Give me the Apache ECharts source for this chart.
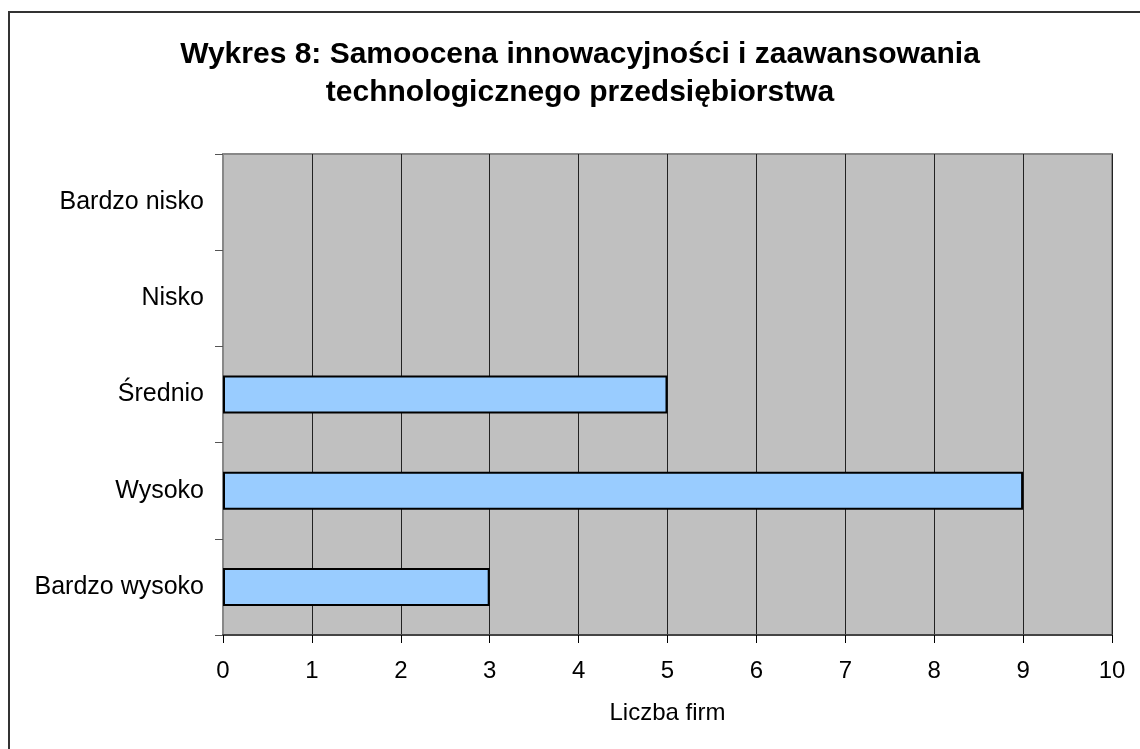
<!DOCTYPE html>
<html>
<head>
<meta charset="utf-8">
<title>Wykres 8</title>
<script src="https://cdn.jsdelivr.net/npm/echarts@6/dist/echarts.min.js"></script>
<style>
	html, body { margin: 0; padding: 0; background: #fff; }
	#chart { width: 1140px; height: 749px; }
</style>
</head>
<body>
<div id="chart"></div>
<script>
// dane z wykresu
var categories = ['Bardzo nisko', 'Nisko', 'Średnio', 'Wysoko', 'Bardzo wysoko'];
var values = [0, 0, 5, 9, 3];
var xTicks = [0, 1, 2, 3, 4, 5, 6, 7, 8, 9, 10];

var myChart = echarts.init(document.getElementById('chart'));

// zerowe slupki bez obramowania
var barData = [];
for (var i = 0; i < values.length; i++) {
	barData.push({
		value: values[i],
		itemStyle: { borderWidth: values[i] === 0 ? 0 : 2 }
	});
}

var option = {
	backgroundColor: '#fff',
	animation: false,
	textStyle: {
		fontFamily: 'Liberation Sans, Arial, sans-serif'
	},
	title: {
		text: 'Wykres 8: Samoocena innowacyjności i zaawansowania\ntechnologicznego przedsiębiorstwa',
		left: 575,
		top: 31,
		textAlign: 'center',
		textStyle: {
			fontSize: 30,
			fontWeight: 'bold',
			color: '#000',
			lineHeight: 38
		}
	},
	graphic: [{
		type: 'rect',
		shape: { x: 9, y: 12, width: 1200, height: 800 },
		style: { fill: 'none', stroke: '#333', lineWidth: 2 },
		silent: true
	}],
	grid: {
		left: 223,
		right: 28,
		top: 154,
		bottom: 114,
		show: true,
		backgroundColor: '#C0C0C0',
		borderColor: '#888',
		borderWidth: 2
	},
	xAxis: {
		type: 'value',
		min: xTicks[0],
		max: xTicks[xTicks.length - 1],
		interval: 1,
		name: 'Liczba firm',
		nameLocation: 'middle',
		nameGap: 66,
		nameTextStyle: { fontSize: 24, color: '#000' },
		axisLine: { show: true, lineStyle: { color: '#444', width: 2 } },
		axisTick: { show: true, length: 8, lineStyle: { color: '#000', width: 1 } },
		axisLabel: { fontSize: 24, color: '#000', margin: 24 },
		splitLine: { show: true, lineStyle: { color: '#222', width: 1 } }
	},
	yAxis: {
		type: 'category',
		data: categories,
		inverse: true,
		axisLine: { show: true, lineStyle: { color: '#888', width: 2 } },
		axisTick: { show: true, length: 8, lineStyle: { color: '#555', width: 1 } },
		axisLabel: { fontSize: 25, color: '#000', margin: 19 },
		splitLine: { show: false }
	},
	series: [{
		type: 'bar',
		data: barData,
		barWidth: 38,
		itemStyle: {
			color: '#99CCFF',
			borderColor: '#000',
			borderWidth: 2
		}
	}]
};

myChart.setOption(option);
</script>
</body>
</html>
